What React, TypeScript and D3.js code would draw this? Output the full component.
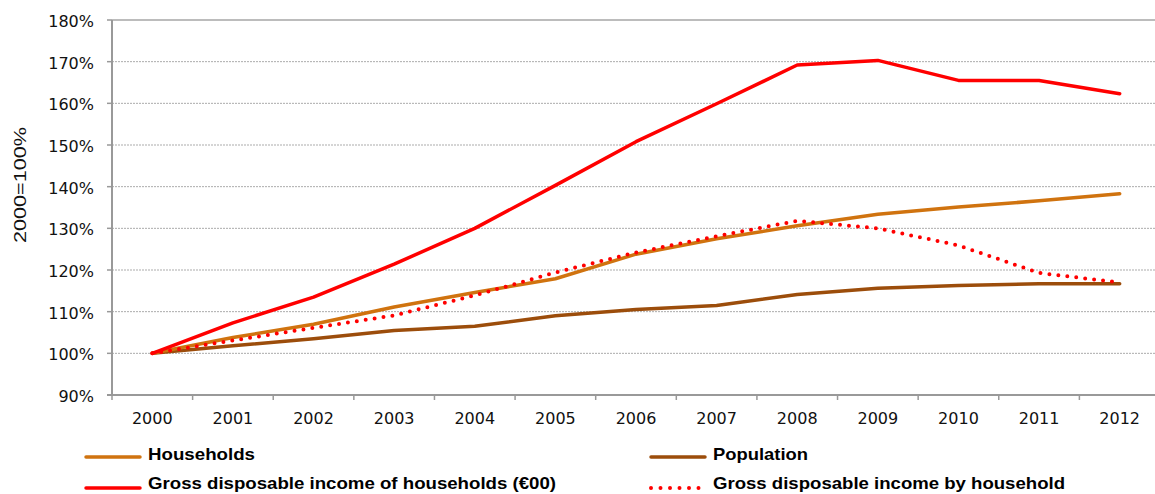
import React from "react";
import * as d3 from "d3";

const years = ["2000","2001","2002","2003","2004","2005","2006","2007","2008","2009","2010","2011","2012"];
const households = [100, 103.8, 107.0, 111.1, 114.6, 117.9, 123.8, 127.5, 130.6, 133.4, 135.1, 136.6, 138.3];
const population = [100, 101.8, 103.5, 105.5, 106.5, 109.0, 110.5, 111.5, 114.1, 115.6, 116.3, 116.7, 116.7];
const gdiHouseholds = [100, 107.3, 113.5, 121.4, 130.0, 140.3, 150.8, 159.9, 169.2, 170.3, 165.5, 165.5, 162.3];
const gdiByHousehold = [100, 103.1, 106.1, 109.1, 113.9, 119.4, 124.2, 128.1, 131.8, 130.0, 125.9, 119.3, 117.0];
const yTicks = [90, 100, 110, 120, 130, 140, 150, 160, 170, 180];

const W = 1155, H = 494;
const left = 112, right = 1160, top = 20, bottom = 395;

const ORANGE = "#D0730F";
const BROWN = "#9C4D0B";
const RED = "#FF0000";

export default function App() {
  const x = d3.scaleBand<string>().domain(years).range([left, right]);
  const y = d3.scaleLinear().domain([90, 180]).range([bottom, top]);
  const cx = (i: number) => (x(years[i]) as number) + x.bandwidth() / 2;
  const line = d3.line<number>().x((_, i) => cx(i)).y((v) => y(v));

  const series = [
    { vals: population, color: BROWN, dash: undefined as string | undefined },
    { vals: households, color: ORANGE, dash: undefined },
    { vals: gdiByHousehold, color: RED, dash: "0 9" },
    { vals: gdiHouseholds, color: RED, dash: undefined },
  ];

  const tickFont = "'DejaVu Sans', Verdana, sans-serif";
  const legFont = "'Liberation Sans', Arial, sans-serif";

  const legend = [
    { label: "Households", color: ORANGE, dash: undefined as string | undefined, lx: 86, ly: 457, ty: 460, len: 107 },
    { label: "Population", color: BROWN, dash: undefined, lx: 651, ly: 457, ty: 460, len: 95 },
    { label: "Gross disposable income of households (€00)", color: RED, dash: undefined, lx: 86, ly: 488, ty: 489, len: 408 },
    { label: "Gross disposable income by household", color: RED, dash: "0 9.5", lx: 651, ly: 488, ty: 489, len: 352 },
  ];

  return (
    <svg width={W} height={H} style={{ position: "absolute", left: 0, top: 0, background: "#fff" }}>
      {yTicks.filter((t) => t !== 90 && t !== 180).map((t) => (
        <line key={t} x1={left} x2={W} y1={y(t)} y2={y(t)} stroke="#ABABAB" strokeWidth={1} strokeDasharray="2 1" />
      ))}
      <line x1={left} x2={W} y1={y(180)} y2={y(180)} stroke="#A6A6A6" strokeWidth={1.5} />
      <line x1={left} x2={left} y1={top} y2={bottom + 1} stroke="#999" strokeWidth={2} />
      <line x1={left - 5} x2={W} y1={bottom} y2={bottom} stroke="#999" strokeWidth={2} />
      {yTicks.map((t) => (
        <g key={t}>
          <line x1={left - 5} x2={left} y1={y(t)} y2={y(t)} stroke="#999" strokeWidth={1.5} />
          <text x={94} y={y(t) + 7} textAnchor="end" fontFamily={tickFont} fontSize={16} fill="#111">{t}%</text>
        </g>
      ))}
      {years.map((yr, i) => (
        <g key={yr}>
          <line x1={x(yr) as number} x2={x(yr) as number} y1={bottom} y2={bottom + 5} stroke="#999" strokeWidth={1.5} />
          <text x={cx(i)} y={424} textAnchor="middle" fontFamily={tickFont} fontSize={16} fill="#111">{yr}</text>
        </g>
      ))}
      <line x1={right} x2={right} y1={bottom} y2={bottom + 5} stroke="#999" strokeWidth={1.5} />
      <text transform="translate(26,185) rotate(-90)" textAnchor="middle" fontFamily={legFont} fontSize={17} textLength={116} lengthAdjust="spacingAndGlyphs" fill="#111">2000=100%</text>
      {series.map((s, k) => (
        <path key={k} d={line(s.vals) as string} fill="none" stroke={s.color} strokeWidth={s.dash ? 4 : 3.5}
          strokeDasharray={s.dash} strokeLinecap="round" strokeLinejoin="round" />
      ))}
      {legend.map((l) => (
        <g key={l.label}>
          <line x1={l.lx} x2={l.lx + 54} y1={l.ly} y2={l.ly} stroke={l.color} strokeWidth={l.dash ? 4 : 3.5}
            strokeDasharray={l.dash} strokeLinecap="round" />
          <text x={l.lx + 62} y={l.ty} fontFamily={legFont} fontWeight="bold" fontSize={16.5} textLength={l.len}
            lengthAdjust="spacingAndGlyphs" fill="#000">{l.label}</text>
        </g>
      ))}
    </svg>
  );
}
